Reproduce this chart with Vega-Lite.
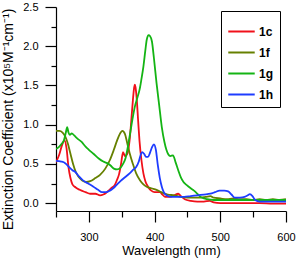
{
  "$schema": "https://vega.github.io/schema/vega-lite/v6.json",
  "autosize": "none",
  "width": 230,
  "height": 204,
  "padding": {"left": 56, "top": 7, "right": 10, "bottom": 48},
  "background": "white",
  "config": {
    "font": "Liberation Sans",
    "view": {"stroke": null},
    "axis": {"domainColor": "black", "tickColor": "black", "labelColor": "black", "titleColor": "black", "grid": false, "domainWidth": 1.2, "tickWidth": 1.2, "labelFont": "Liberation Sans", "titleFont": "Liberation Sans", "labelFontSize": 11, "titleFontWeight": "normal"}
  },
  "datasets": {
    "spectra": [
      {"s":"1c","w":250,"e":0.52},{"s":"1c","w":255,"e":0.62},{"s":"1c","w":260,"e":0.76},{"s":"1c","w":263,"e":0.80},{"s":"1c","w":266,"e":0.70},{"s":"1c","w":269,"e":0.46},{"s":"1c","w":272,"e":0.32},{"s":"1c","w":275,"e":0.24},{"s":"1c","w":280,"e":0.20},{"s":"1c","w":286,"e":0.17},{"s":"1c","w":295,"e":0.14},{"s":"1c","w":302,"e":0.12},{"s":"1c","w":310,"e":0.12},{"s":"1c","w":317,"e":0.10},{"s":"1c","w":322,"e":0.11},{"s":"1c","w":326,"e":0.13},{"s":"1c","w":330,"e":0.16},{"s":"1c","w":334,"e":0.19},{"s":"1c","w":340,"e":0.24},{"s":"1c","w":343,"e":0.30},{"s":"1c","w":346,"e":0.37},{"s":"1c","w":349,"e":0.50},{"s":"1c","w":352,"e":0.65},{"s":"1c","w":355,"e":0.60},{"s":"1c","w":358,"e":0.62},{"s":"1c","w":362,"e":0.80},{"s":"1c","w":365,"e":1.10},{"s":"1c","w":367,"e":1.31},{"s":"1c","w":369,"e":1.48},{"s":"1c","w":370,"e":1.51},{"s":"1c","w":371,"e":1.48},{"s":"1c","w":373,"e":1.31},{"s":"1c","w":375,"e":1.05},{"s":"1c","w":377,"e":0.80},{"s":"1c","w":380,"e":0.55},{"s":"1c","w":383,"e":0.38},{"s":"1c","w":386,"e":0.28},{"s":"1c","w":390,"e":0.21},{"s":"1c","w":395,"e":0.16},{"s":"1c","w":400,"e":0.14},{"s":"1c","w":408,"e":0.14},{"s":"1c","w":412,"e":0.11},{"s":"1c","w":416,"e":0.08},{"s":"1c","w":423,"e":0.08},{"s":"1c","w":430,"e":0.10},{"s":"1c","w":436,"e":0.12},{"s":"1c","w":440,"e":0.09},{"s":"1c","w":446,"e":0.05},{"s":"1c","w":455,"e":0.03},{"s":"1c","w":465,"e":0.02},{"s":"1c","w":475,"e":0.02},{"s":"1c","w":484,"e":0.03},{"s":"1c","w":490,"e":0.01},{"s":"1c","w":500,"e":0.0},{"s":"1c","w":520,"e":0.0},{"s":"1c","w":540,"e":0.0},{"s":"1c","w":560,"e":0.0},{"s":"1c","w":580,"e":-0.005},{"s":"1c","w":600,"e":-0.005},
      {"s":"1f","w":250,"e":0.92},{"s":"1f","w":255,"e":0.92},{"s":"1f","w":260,"e":0.90},{"s":"1f","w":264,"e":0.85},{"s":"1f","w":268,"e":0.76},{"s":"1f","w":272,"e":0.63},{"s":"1f","w":276,"e":0.50},{"s":"1f","w":280,"e":0.40},{"s":"1f","w":284,"e":0.34},{"s":"1f","w":290,"e":0.29},{"s":"1f","w":296,"e":0.27},{"s":"1f","w":302,"e":0.28},{"s":"1f","w":310,"e":0.32},{"s":"1f","w":317,"e":0.36},{"s":"1f","w":325,"e":0.44},{"s":"1f","w":332,"e":0.55},{"s":"1f","w":338,"e":0.68},{"s":"1f","w":343,"e":0.80},{"s":"1f","w":347,"e":0.88},{"s":"1f","w":351,"e":0.92},{"s":"1f","w":355,"e":0.88},{"s":"1f","w":358,"e":0.78},{"s":"1f","w":362,"e":0.64},{"s":"1f","w":367,"e":0.50},{"s":"1f","w":372,"e":0.38},{"s":"1f","w":378,"e":0.29},{"s":"1f","w":383,"e":0.24},{"s":"1f","w":388,"e":0.21},{"s":"1f","w":395,"e":0.19},{"s":"1f","w":403,"e":0.17},{"s":"1f","w":410,"e":0.14},{"s":"1f","w":420,"e":0.11},{"s":"1f","w":430,"e":0.10},{"s":"1f","w":440,"e":0.08},{"s":"1f","w":450,"e":0.07},{"s":"1f","w":460,"e":0.07},{"s":"1f","w":470,"e":0.07},{"s":"1f","w":478,"e":0.08},{"s":"1f","w":485,"e":0.09},{"s":"1f","w":490,"e":0.07},{"s":"1f","w":500,"e":0.06},{"s":"1f","w":510,"e":0.05},{"s":"1f","w":520,"e":0.06},{"s":"1f","w":530,"e":0.05},{"s":"1f","w":540,"e":0.05},{"s":"1f","w":550,"e":0.04},{"s":"1f","w":560,"e":0.05},{"s":"1f","w":570,"e":0.04},{"s":"1f","w":580,"e":0.05},{"s":"1f","w":590,"e":0.04},{"s":"1f","w":600,"e":0.05},
      {"s":"1g","w":250,"e":0.69},{"s":"1g","w":255,"e":0.72},{"s":"1g","w":259,"e":0.76},{"s":"1g","w":262,"e":0.80},{"s":"1g","w":265,"e":0.90},{"s":"1g","w":267,"e":0.97},{"s":"1g","w":269,"e":0.90},{"s":"1g","w":271,"e":0.87},{"s":"1g","w":274,"e":0.89},{"s":"1g","w":278,"e":0.86},{"s":"1g","w":283,"e":0.82},{"s":"1g","w":289,"e":0.78},{"s":"1g","w":295,"e":0.72},{"s":"1g","w":300,"e":0.68},{"s":"1g","w":307,"e":0.63},{"s":"1g","w":315,"e":0.57},{"s":"1g","w":322,"e":0.53},{"s":"1g","w":328,"e":0.51},{"s":"1g","w":333,"e":0.48},{"s":"1g","w":338,"e":0.44},{"s":"1g","w":343,"e":0.43},{"s":"1g","w":348,"e":0.45},{"s":"1g","w":352,"e":0.50},{"s":"1g","w":356,"e":0.58},{"s":"1g","w":360,"e":0.75},{"s":"1g","w":363,"e":0.90},{"s":"1g","w":367,"e":1.10},{"s":"1g","w":370,"e":1.23},{"s":"1g","w":374,"e":1.35},{"s":"1g","w":377,"e":1.44},{"s":"1g","w":380,"e":1.58},{"s":"1g","w":383,"e":1.74},{"s":"1g","w":386,"e":1.95},{"s":"1g","w":388,"e":2.08},{"s":"1g","w":391,"e":2.14},{"s":"1g","w":393,"e":2.13},{"s":"1g","w":396,"e":2.06},{"s":"1g","w":399,"e":1.85},{"s":"1g","w":403,"e":1.53},{"s":"1g","w":407,"e":1.25},{"s":"1g","w":411,"e":0.97},{"s":"1g","w":415,"e":0.78},{"s":"1g","w":418,"e":0.68},{"s":"1g","w":421,"e":0.62},{"s":"1g","w":424,"e":0.60},{"s":"1g","w":428,"e":0.61},{"s":"1g","w":432,"e":0.52},{"s":"1g","w":436,"e":0.42},{"s":"1g","w":440,"e":0.33},{"s":"1g","w":444,"e":0.27},{"s":"1g","w":449,"e":0.23},{"s":"1g","w":455,"e":0.19},{"s":"1g","w":460,"e":0.16},{"s":"1g","w":465,"e":0.12},{"s":"1g","w":470,"e":0.08},{"s":"1g","w":475,"e":0.06},{"s":"1g","w":480,"e":0.05},{"s":"1g","w":490,"e":0.04},{"s":"1g","w":500,"e":0.04},{"s":"1g","w":520,"e":0.04},{"s":"1g","w":540,"e":0.04},{"s":"1g","w":560,"e":0.04},{"s":"1g","w":580,"e":0.04},{"s":"1g","w":600,"e":0.04},
      {"s":"1h","w":250,"e":0.54},{"s":"1h","w":258,"e":0.53},{"s":"1h","w":264,"e":0.51},{"s":"1h","w":270,"e":0.46},{"s":"1h","w":275,"e":0.42},{"s":"1h","w":279,"e":0.40},{"s":"1h","w":285,"e":0.34},{"s":"1h","w":291,"e":0.29},{"s":"1h","w":299,"e":0.25},{"s":"1h","w":307,"e":0.21},{"s":"1h","w":314,"e":0.17},{"s":"1h","w":320,"e":0.14},{"s":"1h","w":326,"e":0.14},{"s":"1h","w":332,"e":0.16},{"s":"1h","w":337,"e":0.19},{"s":"1h","w":342,"e":0.23},{"s":"1h","w":348,"e":0.28},{"s":"1h","w":355,"e":0.33},{"s":"1h","w":362,"e":0.38},{"s":"1h","w":368,"e":0.43},{"s":"1h","w":372,"e":0.46},{"s":"1h","w":376,"e":0.53},{"s":"1h","w":379,"e":0.62},{"s":"1h","w":381,"e":0.65},{"s":"1h","w":384,"e":0.63},{"s":"1h","w":387,"e":0.59},{"s":"1h","w":390,"e":0.59},{"s":"1h","w":393,"e":0.64},{"s":"1h","w":396,"e":0.71},{"s":"1h","w":399,"e":0.75},{"s":"1h","w":402,"e":0.68},{"s":"1h","w":405,"e":0.48},{"s":"1h","w":408,"e":0.32},{"s":"1h","w":411,"e":0.21},{"s":"1h","w":414,"e":0.14},{"s":"1h","w":418,"e":0.10},{"s":"1h","w":425,"e":0.08},{"s":"1h","w":435,"e":0.08},{"s":"1h","w":445,"e":0.08},{"s":"1h","w":455,"e":0.09},{"s":"1h","w":465,"e":0.10},{"s":"1h","w":475,"e":0.11},{"s":"1h","w":485,"e":0.12},{"s":"1h","w":492,"e":0.14},{"s":"1h","w":499,"e":0.16},{"s":"1h","w":506,"e":0.16},{"s":"1h","w":512,"e":0.15},{"s":"1h","w":517,"e":0.11},{"s":"1h","w":522,"e":0.07},{"s":"1h","w":530,"e":0.07},{"s":"1h","w":537,"e":0.08},{"s":"1h","w":542,"e":0.10},{"s":"1h","w":545,"e":0.115},{"s":"1h","w":549,"e":0.09},{"s":"1h","w":553,"e":0.04},{"s":"1h","w":560,"e":0.02},{"s":"1h","w":570,"e":0.02},{"s":"1h","w":580,"e":0.02},{"s":"1h","w":590,"e":0.02},{"s":"1h","w":600,"e":0.02}
    ]
  },
  "data": {"name": "spectra"},
  "mark": {"type": "line", "strokeWidth": 1.8, "interpolate": "monotone", "clip": true},
  "encoding": {
    "x": {
      "field": "w", "type": "quantitative",
      "scale": {"domain": [250, 600], "nice": false, "zero": false},
      "axis": {
        "title": "Wavelength (nm)", "titleFontSize": 13, "titlePadding": 2,
        "values": [250, 300, 350, 400, 450, 500, 550, 600],
        "labelExpr": "datum.value % 100 === 0 ? datum.label : ''",
        "tickSize": {"condition": {"test": "datum.value % 100 === 0", "value": 11}, "value": 6},
        "labelPadding": 9, "labelFlush": false
      }
    },
    "y": {
      "field": "e", "type": "quantitative",
      "scale": {"domain": [-0.1, 2.5], "nice": false, "zero": false},
      "axis": {
        "title": "Extinction Coefficient (x10⁵M⁻¹cm⁻¹)", "titleFontSize": 14,
        "values": [0, 0.25, 0.5, 0.75, 1, 1.25, 1.5, 1.75, 2, 2.25, 2.5],
        "labelExpr": "datum.value % 0.5 === 0 ? format(datum.value, '.1f') : ''",
        "tickSize": {"condition": {"test": "datum.value % 0.5 === 0", "value": 11}, "value": 5},
        "labelPadding": 7, "labelFlush": false,
        "titleX": -48, "titleY": 112, "titleAlign": "center", "titleBaseline": "middle", "titleAngle": -90
      }
    },
    "color": {
      "field": "s", "type": "nominal",
      "scale": {"domain": ["1c", "1f", "1g", "1h"], "range": ["#f0101a", "#668000", "#14b414", "#1e3cff"]},
      "legend": {
        "title": null, "orient": "none", "legendX": 165, "legendY": 4,
        "symbolType": "stroke", "symbolSize": 700, "symbolStrokeWidth": 2,
        "labelFontSize": 12, "labelFontWeight": "bold", "labelColor": "black",
        "strokeColor": "black", "padding": 6, "rowPadding": -8, "labelOffset": 3
      }
    }
  }
}
